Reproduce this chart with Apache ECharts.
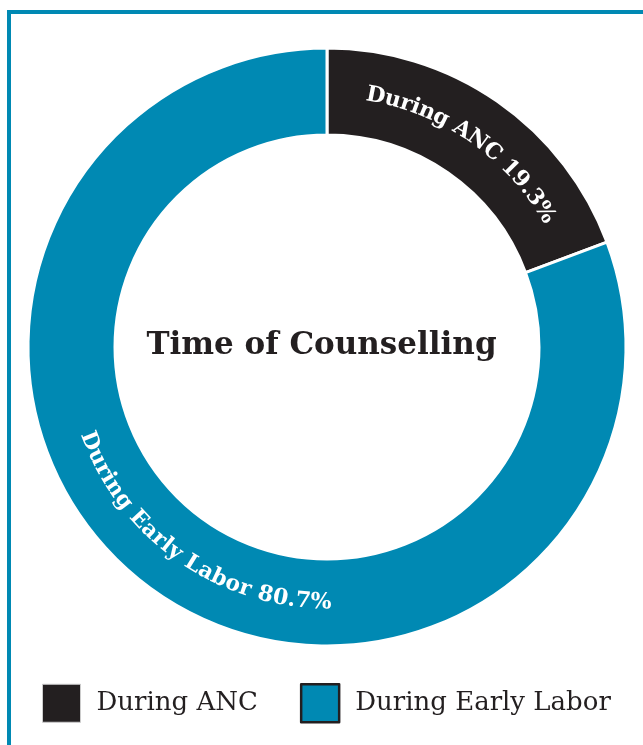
<!DOCTYPE html>
<html>
<head>
<meta charset="utf-8">
<title>Time of Counselling</title>
<script src="https://cdn.jsdelivr.net/npm/echarts@6/dist/echarts.min.js"></script>
<style>
  html, body { margin: 0; padding: 0; background: #fff; }
  #chart { width: 643px; height: 745px; }
</style>
</head>
<body>
<div id="chart"></div>
<script>
// data
const categories = ["During ANC", "During Early Labor"];
const shares = [19.3, 80.7];
const sliceColors = ["#231f20", "#0089b3"];
const chartTitle = "Time of Counselling";

// donut geometry
const CX = 327, CY = 347;
const R_IN = 212, R_OUT = 299;
const LABEL_FONT = 'bold 22px "DejaVu Serif"';

const measureCtx = document.createElement("canvas").getContext("2d");
measureCtx.font = LABEL_FONT;

// lay each slice label out along the middle of the ring, one glyph at a time
function arcLabels() {
  const total = shares.reduce((a, b) => a + b, 0);
  const r = (R_IN + R_OUT) / 2;
  const out = [];
  let cum = 0;
  shares.forEach((v, i) => {
    const start = 90 - (360 * cum) / total;
    const end = start - (360 * v) / total;
    cum += v;
    const mid = ((start + end) / 2) * Math.PI / 180;
    const text = categories[i] + " " + v.toFixed(1) + "%";
    const widths = [...text].map(ch => measureCtx.measureText(ch).width);
    const span = widths.reduce((a, b) => a + b, 0) / r;
    const upper = Math.sin(mid) > 0;
    let run = 0;
    [...text].forEach((ch, k) => {
      const off = (run + widths[k] / 2) / r;
      run += widths[k];
      const phi = upper ? mid + span / 2 - off : mid - span / 2 + off;
      const rot = upper ? phi - Math.PI / 2 : phi + Math.PI / 2;
      out.push({
        type: "text",
        x: CX + r * Math.cos(phi),
        y: CY - r * Math.sin(phi),
        rotation: rot,
        silent: true,
        z: 10,
        style: {
          text: ch,
          font: LABEL_FONT,
          fill: "#ffffff",
          align: "center",
          verticalAlign: "middle",
          textAlign: "center",
          textVerticalAlign: "middle"
        }
      });
    });
  });
  return out;
}

const chart = echarts.init(document.getElementById("chart"));

chart.setOption({
  animation: false,
  title: {
    text: chartTitle,
    left: "center",
    top: 325,
    textStyle: {
      fontFamily: "DejaVu Serif",
      fontWeight: "bold",
      fontSize: 31,
      color: "#231f20"
    }
  },
  legend: {
    left: 42,
    top: 683,
    padding: 0,
    icon: "rect",
    itemWidth: 38,
    itemHeight: 38,
    itemGap: 42,
    selectedMode: false,
    textStyle: {
      fontFamily: "DejaVu Serif",
      fontSize: 26,
      color: "#231f20",
      padding: [0, 0, 0, 11]
    },
    data: [
      { name: categories[0], itemStyle: { borderColor: "#cccccc", borderWidth: 1 } },
      { name: categories[1], itemStyle: { borderColor: "#231f20", borderWidth: 2.5 } }
    ]
  },
  graphic: [
    {
      type: "rect",
      silent: true,
      shape: { x: 9, y: 12, width: 700, height: 800 },
      style: { fill: "none", stroke: "#0089b3", lineWidth: 4 }
    },
    ...arcLabels()
  ],
  series: [
    {
      type: "pie",
      center: [CX, CY],
      radius: [R_IN, R_OUT],
      startAngle: 90,
      clockwise: true,
      avoidLabelOverlap: false,
      label: { show: false },
      labelLine: { show: false },
      emphasis: { disabled: true },
      itemStyle: { borderColor: "#ffffff", borderWidth: 3 },
      data: categories.map((name, i) => ({
        name,
        value: shares[i],
        itemStyle: { color: sliceColors[i] }
      }))
    }
  ]
});
</script>
</body>
</html>
